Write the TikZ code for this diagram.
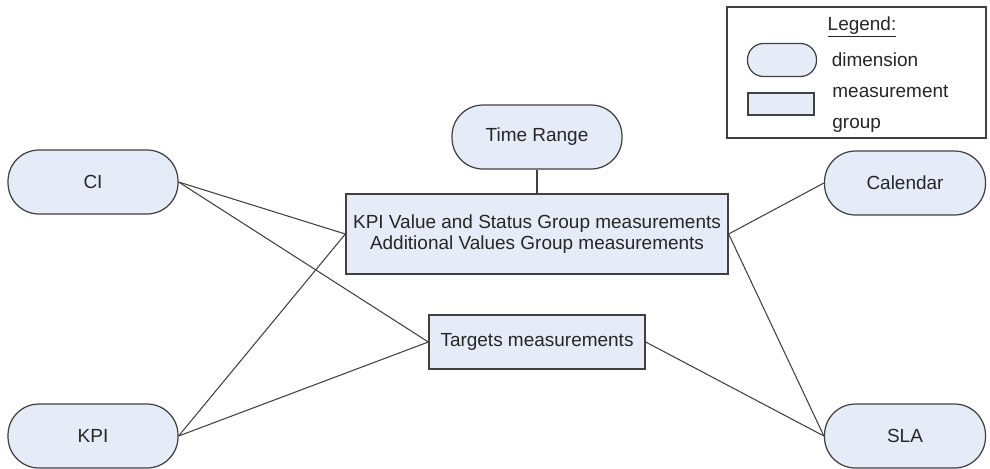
\documentclass[tikz,border=0pt]{standalone}
\usepackage{fontspec}
\setmainfont{Liberation Sans}
\usetikzlibrary{positioning}
\definecolor{dimfill}{RGB}{230,236,247}
\definecolor{edgegray}{RGB}{64,64,64}

\begin{document}
\begin{tikzpicture}[
    x=0.02cm, y=-0.02cm,
    every node/.style={font=\fontsize{10.8}{11.8}\selectfont, text=black!85},
    dimension/.style={draw=edgegray, fill=dimfill, rounded corners=0.62cm, minimum width=3.4cm, minimum height=1.28cm, line width=0.7pt},
    measure/.style={draw=edgegray, fill=dimfill, align=center, line width=0.8pt},
    link/.style={draw=edgegray, line width=0.6pt}
  ]
    \useasboundingbox (0,0) rectangle (990,468);
    \node[dimension] (ci) at (93,182) {CI};
    \node[dimension] (kpi) at (93,436) {KPI};
    \node[dimension, minimum width=3.22cm] (calendar) at (905,183) {Calendar};
    \node[dimension, minimum width=3.22cm] (sla) at (905,436) {SLA};
    \node[dimension] (timerange) at (537,137) {Time Range};
    \node[measure, minimum width=7.64cm, minimum height=1.6cm] (kpivalues) at (537,234) {KPI Value and Status Group measurements\\Additional Values Group measurements};
    \node[measure, minimum width=4.32cm, minimum height=1.08cm] (targets) at (537,342) {Targets measurements};
    % legend
    \node[draw=edgegray, line width=0.7pt, minimum width=5.18cm, minimum height=2.62cm] (legend) at (856.5,72.5) {};
    \node (legendtitle) at (862,27) {\underline{Legend:}};
    \node[dimension, minimum width=1.38cm, minimum height=0.66cm, rounded corners=0.32cm] (legdim) at (782,60) {};
    \node[measure, minimum width=1.32cm, minimum height=0.44cm] (leggroup) at (781,104) {};
    \node[right=0.17cm of legdim] (legdimtext) {dimension};
    \node[right=0.23cm of leggroup, align=left, font=\fontsize{10.8}{18}\selectfont, yshift=-0.1cm] (leggrouptext) {measurement\\group};
    \draw[link] (ci.east) -- (kpivalues.west);
    \draw[link] (ci.east) -- (targets.west);
    \draw[link] (kpi.east) -- (kpivalues.west);
    \draw[link] (kpi.east) -- (targets.west);
    \draw[link] (calendar.west) -- (kpivalues.east);
    \draw[link] (sla.west) -- (kpivalues.east);
    \draw[link] (sla.west) -- (targets.east);
    \draw[link] (timerange) -- (kpivalues);
  \end{tikzpicture}
\end{document}
